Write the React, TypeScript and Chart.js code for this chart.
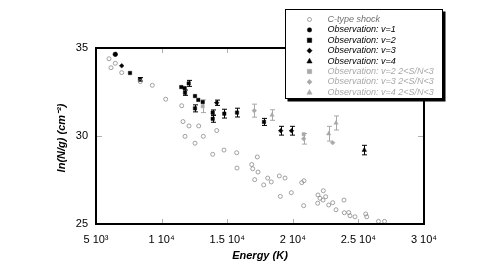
import React, { useEffect, useRef } from "react";
import { Chart, registerables } from "chart.js";

Chart.register(...registerables);

// ---- Data ----
const xTickLabels = ["5 10³", "1 10⁴", "1.5 10⁴", "2 10⁴", "2.5 10⁴", "3 10⁴"];
const yTickLabels = ["25", "30", "35"];

const ctypeX = [5991, 6471, 6143, 6959, 8377, 9291, 10313, 11532, 11631, 12088, 12828, 11784, 13178, 14200, 12546, 13895, 14756, 15724, 17294, 15747, 16868, 16944, 17348, 17096, 18087, 17782, 18361, 18971, 19406, 19048, 19886, 20679, 20854, 20831, 22325, 21921, 22073, 22508, 22302, 21898, 22736, 23041, 23293, 23903, 23926, 24261, 24360, 24741, 25557, 25633, 26532, 26990];
const ctypeY = [34.39, 34.13, 33.88, 33.6, 33.09, 32.88, 32.09, 31.72, 30.82, 30.57, 30.57, 29.98, 29.98, 30.31, 29.59, 28.96, 29.2, 29.05, 28.81, 28.18, 28.38, 28.14, 27.95, 27.52, 27.61, 27.22, 27.39, 27.73, 27.61, 26.57, 26.78, 27.35, 27.46, 26.04, 26.89, 26.65, 26.46, 26.55, 26.36, 26.18, 26.08, 26.21, 25.81, 26.36, 25.64, 25.65, 25.47, 25.41, 25.57, 25.41, 25.15, 25.15];

const v1X = [6471];
const v1Y = [34.64];
const v1E = [0];

const v2X = [7592, 8354, 11500, 11760, 12065, 11784, 12546, 12798, 12546, 13133, 13895, 13895, 14779, 15747, 17805];
const v2Y = [33.58, 33.22, 32.78, 32.72, 32.99, 32.46, 32.27, 32.05, 31.57, 31.93, 31.33, 30.98, 31.27, 31.33, 30.8];
const v2E = [0, 0.1, 0, 0, 0.17, 0.15, 0, 0, 0.2, 0, 0.15, 0.2, 0.25, 0.25, 0.2];

const v3X = [6959, 14200, 19078, 19901];
const v3Y = [33.99, 31.89, 30.3, 30.3];
const v3E = [0, 0.15, 0.25, 0.25];

const v4X = [25450];
const v4Y = [29.2];
const v4E = [0.27];

const v2lowX = [13133, 20831];
const v2lowY = [31.69, 30.1];
const v2lowE = [0.36, 0];

const v3lowX = [17066, 20831, 23041];
const v3lowY = [31.44, 29.84, 29.62];
const v3lowE = [0.37, 0.3, 0];

const v4lowX = [18415, 22736, 23293];
const v4lowY = [31.19, 30.13, 30.74];
const v4lowE = [0.3, 0.42, 0.4];

const legendLabels = [
  "C-type shock",
  "Observation: v=1",
  "Observation: v=2",
  "Observation: v=3",
  "Observation: v=4",
  "Observation: v=2 2<S/N<3",
  "Observation: v=3 2<S/N<3",
  "Observation: v=4 2<S/N<3",
];

const BLACK = "#000000";
const GREY = "#a8a8a8";
const CGREY = "#8a8a8a";

function pts(xs: number[], ys: number[], es?: number[]) {
  return xs.map((x, i) => ({ x, y: ys[i], e: es ? es[i] : 0 }));
}

const FONT = "'Liberation Sans', Arial, Helvetica, sans-serif";

function drawMarker(ctx: CanvasRenderingContext2D, style: string, r: number, x: number, y: number, fill: boolean) {
  ctx.beginPath();
  if (style === "circle") {
    ctx.arc(x, y, r, 0, Math.PI * 2);
  } else if (style === "rect") {
    ctx.rect(x - r, y - r, 2 * r, 2 * r);
  } else if (style === "rectRot") {
    ctx.moveTo(x, y - r * 1.3);
    ctx.lineTo(x + r * 1.3, y);
    ctx.lineTo(x, y + r * 1.3);
    ctx.lineTo(x - r * 1.3, y);
    ctx.closePath();
  } else if (style === "triangle") {
    ctx.moveTo(x, y - r * 1.2);
    ctx.lineTo(x + r * 1.1, y + r * 0.8);
    ctx.lineTo(x - r * 1.1, y + r * 0.8);
    ctx.closePath();
  }
  if (fill) ctx.fill();
  ctx.stroke();
}

const frameAndExtras = {
  id: "frameAndExtras",
  beforeDatasetsDraw(chart: any) {
    const ctx = chart.ctx;
    const xs = chart.scales.x;
    const ys = chart.scales.y;
    ctx.save();
    ctx.strokeStyle = "#b0b0b0";
    ctx.lineWidth = 1;
    const { left, right, top, bottom } = chart.chartArea;
    [10000, 15000, 20000, 25000].forEach((v) => {
      const px = Math.round(xs.getPixelForValue(v)) + 0.5;
      ctx.beginPath();
      ctx.moveTo(px, bottom);
      ctx.lineTo(px, bottom - 5);
      ctx.moveTo(px, top);
      ctx.lineTo(px, top + 5);
      ctx.stroke();
    });
    [30].forEach((v) => {
      const py = Math.round(ys.getPixelForValue(v)) + 0.5;
      ctx.beginPath();
      ctx.moveTo(left, py);
      ctx.lineTo(left + 6, py);
      ctx.moveTo(right, py);
      ctx.lineTo(right - 6, py);
      ctx.stroke();
    });
    // error bars
    chart.data.datasets.forEach((ds: any, di: number) => {
      const meta = chart.getDatasetMeta(di);
      if (meta.hidden) return;
      ctx.strokeStyle = ds.errColor || BLACK;
      ctx.lineWidth = 1;
      ds.data.forEach((p: any) => {
        if (!p.e) return;
        const px = Math.round(xs.getPixelForValue(p.x)) + 0.5;
        const y1 = ys.getPixelForValue(p.y + p.e);
        const y2 = ys.getPixelForValue(p.y - p.e);
        ctx.beginPath();
        ctx.moveTo(px, y1);
        ctx.lineTo(px, y2);
        ctx.moveTo(px - 2.5, y1);
        ctx.lineTo(px + 2.5, y1);
        ctx.moveTo(px - 2.5, y2);
        ctx.lineTo(px + 2.5, y2);
        ctx.stroke();
      });
    });
    ctx.restore();
  },
  afterDraw(chart: any) {
    const ctx = chart.ctx;
    const { left, right, top, bottom } = chart.chartArea;
    ctx.save();
    // frame
    ctx.strokeStyle = BLACK;
    ctx.lineWidth = 2;
    ctx.strokeRect(left, top, right - left, bottom - top);
    // axis titles
    ctx.fillStyle = BLACK;
    ctx.font = `italic bold 11px ${FONT}`;
    ctx.textAlign = "center";
    ctx.textBaseline = "middle";
    ctx.fillText("Energy (K)", (left + right) / 2, 256);
    ctx.save();
    ctx.translate(62, 138);
    ctx.rotate(-Math.PI / 2);
    ctx.fillText("ln(N/g) (cm⁻²)", 0, 0);
    ctx.restore();

    // legend box
    const bx = 285, by = 9, bw = 158, bh = 90;
    ctx.fillStyle = BLACK;
    ctx.fillRect(bx + 2.5, by + 2.5, bw, bh);
    ctx.fillStyle = "#ffffff";
    ctx.fillRect(bx, by, bw, bh);
    ctx.lineWidth = 1;
    ctx.strokeStyle = BLACK;
    ctx.strokeRect(bx + 0.5, by + 0.5, bw - 1, bh - 1);

    const styles = [
      { style: "circle", color: CGREY, fill: false, r: 2 },
      { style: "circle", color: BLACK, fill: true, r: 2.2 },
      { style: "rect", color: BLACK, fill: true, r: 2.2 },
      { style: "rectRot", color: BLACK, fill: true, r: 2 },
      { style: "triangle", color: BLACK, fill: true, r: 2.4 },
      { style: "rect", color: GREY, fill: true, r: 2.2 },
      { style: "rectRot", color: GREY, fill: true, r: 2 },
      { style: "triangle", color: GREY, fill: true, r: 2.4 },
    ];
    const textColors = ["#707070", BLACK, BLACK, BLACK, BLACK, GREY, GREY, GREY];
    ctx.font = `italic 9px ${FONT}`;
    ctx.textAlign = "left";
    ctx.textBaseline = "middle";
    legendLabels.forEach((lbl, i) => {
      const yy = 19.5 + i * 10.4;
      const s = styles[i];
      ctx.fillStyle = s.fill ? s.color : "rgba(0,0,0,0)";
      ctx.strokeStyle = s.color;
      ctx.lineWidth = s.fill ? 0.5 : 0.8;
      drawMarker(ctx, s.style, s.r, 309.5, yy, s.fill);
      ctx.fillStyle = textColors[i];
      ctx.fillText(lbl, 327.5, yy);
    });
    ctx.restore();
  },
};

export default function App() {
  const ref = useRef<HTMLCanvasElement | null>(null);
  useEffect(() => {
    document.body.style.margin = "0";
    const canvas = ref.current;
    if (!canvas) return;
    const mk = (label: string, data: any[], style: string, color: string, fill: boolean, r: number, errColor: string) => ({
      label,
      data,
      pointStyle: style,
      pointRadius: r,
      pointBackgroundColor: fill ? color : "rgba(0,0,0,0)",
      pointBorderColor: color,
      pointBorderWidth: fill ? 0.5 : 0.8,
      showLine: false,
      errColor,
    });
    const chart = new Chart(canvas, {
      type: "scatter",
      data: {
        datasets: [
          mk(legendLabels[0], pts(ctypeX, ctypeY), "circle", CGREY, false, 2, CGREY),
          mk(legendLabels[5], pts(v2lowX, v2lowY, v2lowE), "rect", GREY, true, 2.3, GREY),
          mk(legendLabels[6], pts(v3lowX, v3lowY, v3lowE), "rectRot", GREY, true, 2.3, GREY),
          mk(legendLabels[7], pts(v4lowX, v4lowY, v4lowE), "triangle", GREY, true, 2.5, GREY),
          mk(legendLabels[1], pts(v1X, v1Y, v1E), "circle", BLACK, true, 2.3, BLACK),
          mk(legendLabels[2], pts(v2X, v2Y, v2E), "rect", BLACK, true, 2.4, BLACK),
          mk(legendLabels[3], pts(v3X, v3Y, v3E), "rectRot", BLACK, true, 2.3, BLACK),
          mk(legendLabels[4], pts(v4X, v4Y, v4E), "triangle", BLACK, true, 2.6, BLACK),
        ] as any,
      },
      options: {
        animation: false,
        responsive: false,
        maintainAspectRatio: false,
        layout: { padding: { left: 0, right: 67, top: 48, bottom: 0 } },
        plugins: {
          legend: { display: false },
          tooltip: { enabled: false },
        },
        scales: {
          x: {
            type: "linear",
            min: 5000,
            max: 30000,
            grid: { display: false, drawTicks: false },
            border: { display: false },
            ticks: {
              stepSize: 5000,
              padding: 9,
              color: BLACK,
              font: { family: FONT, size: 11 },
              maxRotation: 0,
              callback: (_v: any, i: number) => xTickLabels[i],
            },
            afterFit: (s: any) => {
              s.height = 40;
            },
          },
          y: {
            type: "linear",
            min: 25,
            max: 35,
            grid: { display: false, drawTicks: false },
            border: { display: false },
            ticks: {
              stepSize: 5,
              padding: 8,
              color: BLACK,
              font: { family: FONT, size: 11 },
              callback: (_v: any, i: number) => yTickLabels[i],
            },
            afterFit: (s: any) => {
              s.width = 96;
            },
          },
        },
      } as any,
      plugins: [frameAndExtras],
    });
    return () => chart.destroy();
  }, []);
  return (
    <div style={{ width: 491, height: 264, position: "relative" }}>
      <canvas ref={ref} width={491} height={264} style={{ display: "block" }} />
    </div>
  );
}
